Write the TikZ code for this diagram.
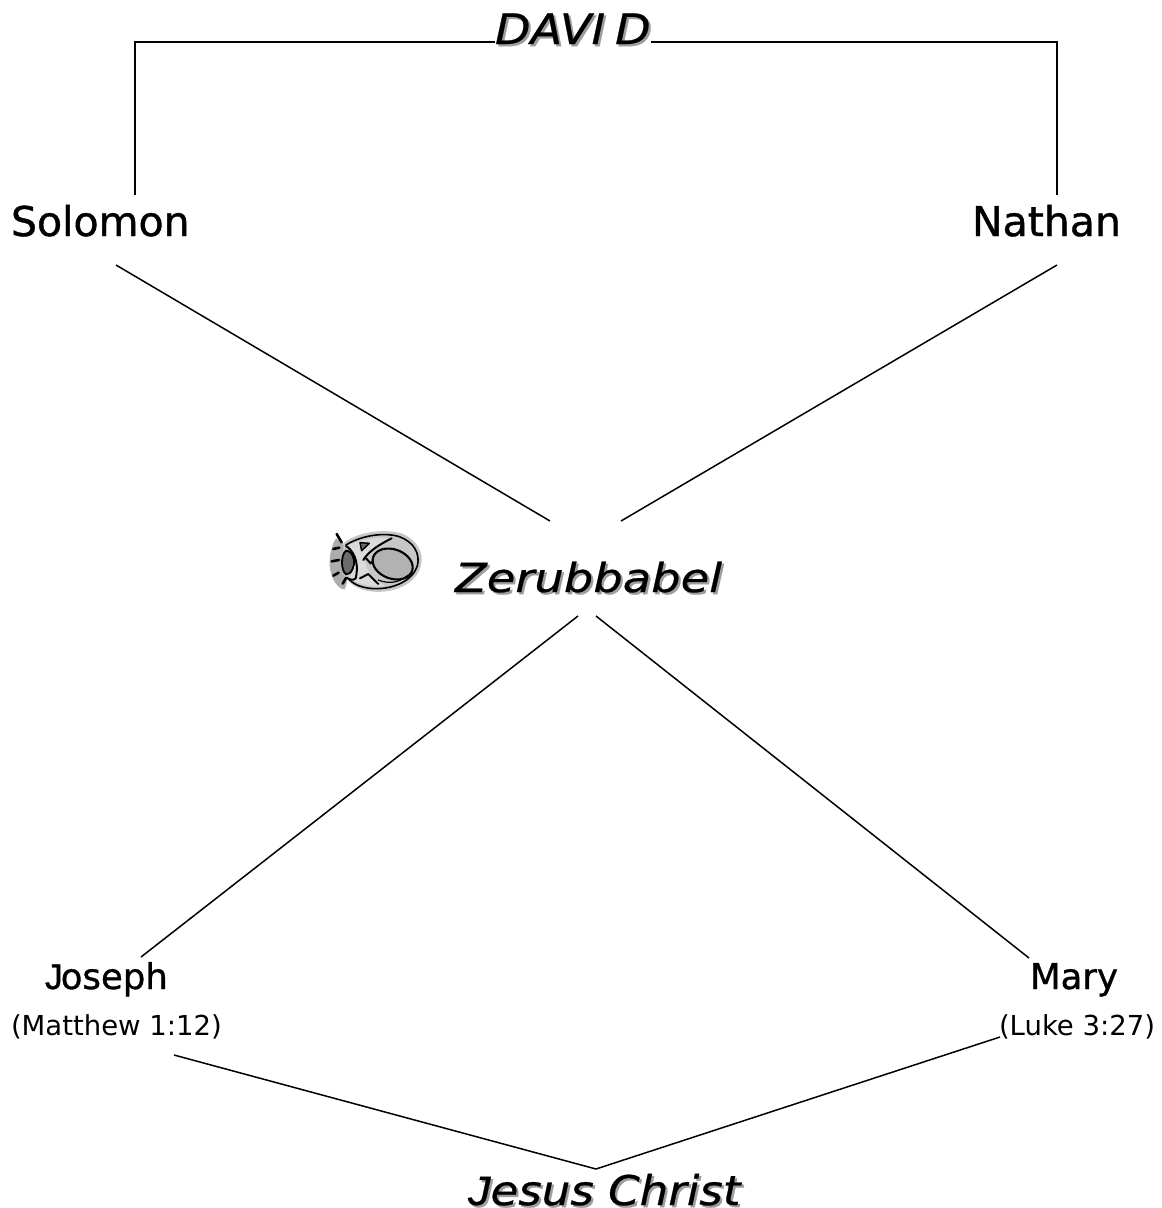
\documentclass[tikz,border=0pt]{standalone}
\usepackage{fontspec}
\usetikzlibrary{calc}
\setmainfont{DejaVu Sans}
\newfontfamily\wideit[FakeStretch=1.1,FakeBold=0.6]{DejaVu Sans Oblique}
\newfontfamily\widerit[FakeStretch=1.16,FakeBold=0.6]{DejaVu Sans Oblique}
\newfontfamily\jitalic[FakeStretch=1.1,FakeBold=0.6]{Liberation Sans Italic}
\newfontfamily\namefont[FakeBold=1]{DejaVu Sans}
\newfontfamily\jupright[FakeBold=1]{Liberation Sans}
\newcommand{\shadowed}[1]{\leavevmode\rlap{\kern2.2pt\raisebox{-2.2pt}{\color{black!38}#1}}#1}
\tikzset{
  lbl/.style={anchor=base west,inner sep=0pt,outer sep=0pt},
  bigname/.style={lbl,font=\fontsize{41}{41}\selectfont\namefont},
  midname/.style={lbl,font=\fontsize{35.5}{36}\selectfont\namefont},
  refname/.style={lbl,font=\fontsize{27.5}{28}\selectfont},
  itname/.style={lbl,font=\fontsize{42}{42}\selectfont\wideit},
  link/.style={draw=black,line width=1.5pt},
  ringline/.style={draw=black,line width=2pt,line cap=round,line join=round}
}
\begin{document}
\begin{tikzpicture}[x=1pt,y=-1pt]
\useasboundingbox (0,0) rectangle (1162,1208);
\fill[white] (0,0) rectangle (1162,1208);
\node[itname] (david) at (495,44) {\shadowed{DAVI\kern10pt D}};
\node[bigname] (solomon) at (11,236) {Solomon};
\node[bigname] (nathan) at (972,236) {Nathan};
\node[itname,font=\fontsize{40}{40}\selectfont\widerit] (zerub) at (455,592) {\shadowed{Zerubbabel}};
\node[midname] (joseph) at (45,989) {{\jupright J}\kern-2ptoseph};
\node[midname] (mary) at (1030,989) {Mary};
\node[refname] (matt) at (11,1035) {(Matthew 1:12)};
\node[refname] (luke) at (999,1035) {(Luke 3:27)};
\node[itname,font=\fontsize{41}{41}\selectfont\wideit] (jesus) at (468,1205) {\shadowed{{\jitalic J}esus Christ}};
\coordinate (apex) at (596,1169);
% connectors
\draw[link] ($(david.base west)+(0,-2)$) -| ($(solomon.base west)+(124,-41)$);
\draw[link] ($(david.base east)+(0,-2)$) -| ($(nathan.base west)+(85,-41)$);
\draw[link] ($(solomon.base west)+(105,29)$) -- ($(zerub.base west)+(95,-71)$);
\draw[link] ($(nathan.base west)+(85,29)$) -- ($(zerub.base west)+(166,-71)$);
\draw[link] ($(zerub.base west)+(123,24)$) -- ($(joseph.base west)+(96,-32)$);
\draw[link] ($(zerub.base west)+(141,24)$) -- ($(mary.base west)+(-1,-31)$);
\draw[link] ($(matt.base west)+(163,20)$) -- (apex) -- ($(luke.base west)+(1,2)$);
% ring picture
\begin{scope}[shift={(310,510)},x=0.3333pt,y=-0.3333pt]
  \fill[black!32] (78,85) .. controls (58,115) and (52,170) .. (68,205) .. controls (78,225) and (92,240) .. (104,238) .. controls (118,215) and (112,150) .. (100,100) -- cycle;
  \fill[black!22] (100,100) .. controls (140,66) and (220,55) .. (275,70) .. controls (320,88) and (345,130) .. (332,170) .. controls (318,218) and (260,250) .. (190,245) .. controls (150,242) and (115,225) .. (100,190) -- cycle;
  \draw[ringline,line width=1.6pt] (108,105) .. controls (150,78) and (220,65) .. (268,80) .. controls (310,95) and (332,130) .. (322,168) .. controls (308,210) and (255,238) .. (190,236) .. controls (160,234) and (130,225) .. (115,205);
  \fill[black!14] (112,108) .. controls (150,88) and (200,80) .. (245,85) .. controls (215,105) and (180,125) .. (165,150) .. controls (165,175) and (185,205) .. (225,228) .. controls (190,232) and (150,225) .. (118,205) .. controls (135,175) and (135,135) .. (112,108) -- cycle;
  \fill[black!58,draw=black,line width=1.5pt,line join=round] (150,98) -- (178,100) -- (155,122) -- cycle;
  \draw[ringline] (108,108) .. controls (125,118) and (150,150) .. (137,205) .. controls (130,212) and (120,210) .. (110,203);
  \fill[black!58,draw=black,line width=1.8pt] (108,122) .. controls (92,135) and (92,180) .. (108,193) .. controls (125,195) and (135,165) .. (132,150) .. controls (128,130) and (118,122) .. (108,122) -- cycle;
  \draw[ringline] (245,85) .. controls (205,105) and (175,125) .. (160,150);
  \draw[ringline] (168,145) -- (182,160) -- (218,125);
  \draw[ringline] (150,205) -- (175,192) -- (205,222);
  \fill[black!30,draw=black,line width=2.1pt,rotate around={-20:(248,162)}] (248,162) ellipse (62 and 44);
  \draw[ringline,line width=1.2pt] (205,210) .. controls (235,222) and (265,220) .. (295,195);
  \draw[ringline,line width=2.6pt] (80,72) -- (95,97);
  \draw[ringline,line width=2.6pt] (70,117) -- (88,113);
  \draw[ringline,line width=2.6pt] (65,154) -- (87,150);
  \draw[ringline,line width=2.6pt] (70,197) -- (86,188);
  \draw[ringline,line width=2.6pt] (98,221) -- (108,204);
\end{scope}
\end{tikzpicture}
\end{document}
